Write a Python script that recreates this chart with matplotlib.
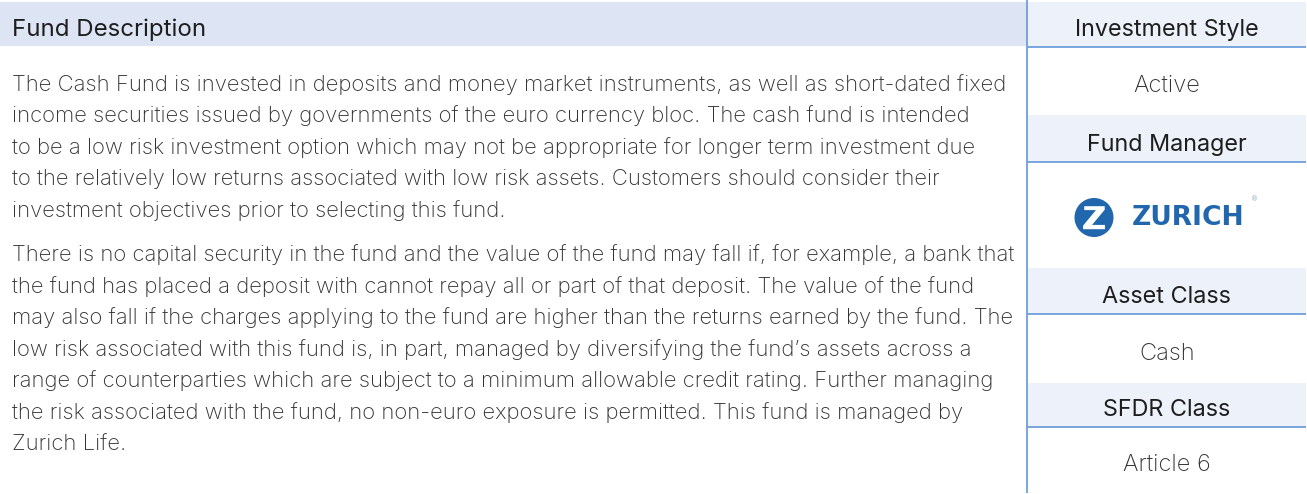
import matplotlib
matplotlib.use("Agg")
import matplotlib.pyplot as plt
from matplotlib.patches import Rectangle, Circle, Polygon

plt.rcParams['font.family'] = ['Inter', 'DejaVu Sans']

# ---------------- content ----------------
section_title = "Fund Description"
para1_lines = [
    "The Cash Fund is invested in deposits and money market instruments, as well as short-dated fixed",
    "income securities issued by governments of the euro currency bloc. The cash fund is intended",
    "to be a low risk investment option which may not be appropriate for longer term investment due",
    "to the relatively low returns associated with low risk assets. Customers should consider their",
    "investment objectives prior to selecting this fund.",
]
para2_lines = [
    "There is no capital security in the fund and the value of the fund may fall if, for example, a bank that",
    "the fund has placed a deposit with cannot repay all or part of that deposit. The value of the fund",
    "may also fall if the charges applying to the fund are higher than the returns earned by the fund. The",
    "low risk associated with this fund is, in part, managed by diversifying the fund\u2019s assets across a",
    "range of counterparties which are subject to a minimum allowable credit rating. Further managing",
    "the risk associated with the fund, no non-euro exposure is permitted. This fund is managed by",
    "Zurich Life.",
]
side_headers = ["Investment Style", "Fund Manager", "Asset Class", "SFDR Class"]
side_values = ["Active", None, "Cash", "Article 6"]
manager_name = "ZURICH"

# ---------------- styles ----------------
W, H = 1307, 494
LEFT_BAND = "#dde4f3"
RIGHT_BAND = "#edf1f9"
LINE_BLUE = "#6f9fdb"
BODY = "#333333"
HEAD = "#1e1e1e"
ZBLUE = "#2167ae"
DIV_X = 1026.5
BODY_W = "light"

fig = plt.figure(figsize=(W / 100, H / 100), dpi=100)
ax = fig.add_axes([0, 0, 1, 1])
ax.set_xlim(0, W)
ax.set_ylim(H, 0)
ax.axis("off")
renderer = fig.canvas.get_renderer()


def fit_size(text, target_px, **kw):
    t = ax.text(0, 0, text, fontsize=10, **kw)
    w = t.get_window_extent(renderer).width
    t.remove()
    return 10 * target_px / w


body_fs = fit_size(para1_lines[0], 995, fontweight=BODY_W)
head_fs = fit_size(section_title, 195)
side_head_fs = fit_size(side_headers[0], 184)
side_val_fs = fit_size("Article 6", 88, fontweight=BODY_W)

# left header band
ax.add_patch(Rectangle((0, 2), DIV_X, 44.5, facecolor=LEFT_BAND, edgecolor="none"))
ax.text(12, 36, section_title, fontsize=head_fs, color=HEAD, va="baseline", ha="left")

# paragraphs
b0, step = 90.7, 31.5
for i, line in enumerate(para1_lines):
    ax.text(12, b0 + i * step, line, fontsize=body_fs, color=BODY, va="baseline", ha="left",
            fontweight=BODY_W)
b1 = 261
for i, line in enumerate(para2_lines):
    ax.text(12, b1 + i * step, line, fontsize=body_fs, color=BODY, va="baseline", ha="left",
            fontweight=BODY_W)

# right column
band_tops = [2, 115, 268, 383]
band_bots = [47, 162, 314, 427]
value_baselines = [91.5, None, 360, 471]
cx = (DIV_X + W) / 2
for head, val, top, bot, vb in zip(side_headers, side_values, band_tops, band_bots, value_baselines):
    ax.add_patch(Rectangle((DIV_X, top), W - 1 - DIV_X, bot - top, facecolor=RIGHT_BAND, edgecolor="none"))
    ax.plot([DIV_X, W - 1], [bot, bot], color=LINE_BLUE, lw=1.3, solid_capstyle="butt")
    ax.text(cx, bot - 11, head, fontsize=side_head_fs, color=HEAD, va="baseline", ha="center")
    if val is not None:
        ax.text(cx, vb, val, fontsize=side_val_fs, color=BODY, va="baseline", ha="center",
                fontweight=BODY_W)

# vertical divider
ax.plot([DIV_X, DIV_X], [0, H - 1], color=LINE_BLUE, lw=1.3, solid_capstyle="butt")

# Zurich logo
lx, ly, r = 1094, 217.5, 19.5
ax.add_patch(Circle((lx, ly), r, facecolor=ZBLUE, edgecolor="none"))
zpts = [(-0.50, 0.58), (0.55, 0.58), (0.55, 0.40), (-0.10, -0.38), (0.56, -0.38),
        (0.56, -0.60), (-0.56, -0.60), (-0.56, -0.42), (0.10, 0.38), (-0.50, 0.38)]
ax.add_patch(Polygon([(lx + r * px, ly - r * py) for px, py in zpts], closed=True,
                     facecolor="white", edgecolor="none"))
z_fs = fit_size(manager_name, 113, fontweight="bold", family="DejaVu Sans")
ax.text(1132, 225, manager_name, fontsize=z_fs, fontweight="bold", family="DejaVu Sans",
        color=ZBLUE, va="baseline", ha="left")
ax.text(1255, 199, "\u00ae", fontsize=5, color="#8aa4c8", ha="center", va="center",
        family="DejaVu Sans")

fig.savefig("out.png", dpi=100)
